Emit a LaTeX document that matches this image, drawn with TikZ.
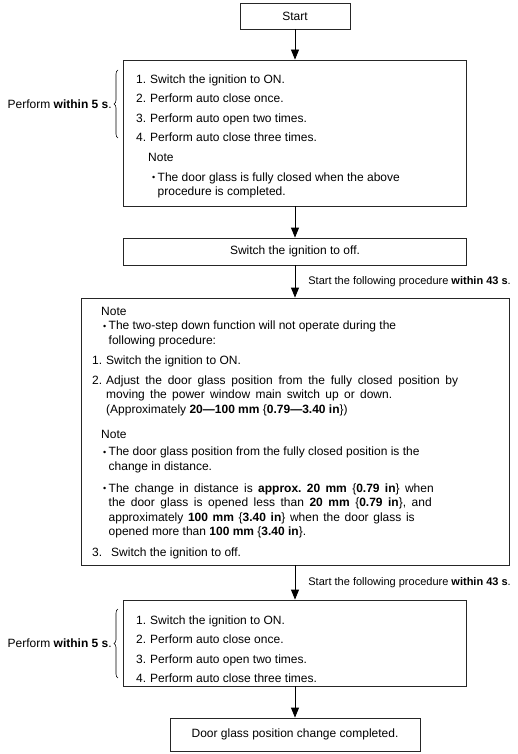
\documentclass[tikz,border=0pt]{standalone}
\usepackage{fontspec}
\setmainfont{Liberation Sans}
\usetikzlibrary{arrows.meta,positioning,decorations.pathreplacing}
\frenchspacing

\newcommand{\Num}[1]{\makebox[14pt][l]{#1}}
\newcommand{\Bul}{\makebox[5.5pt][l]{\raisebox{0.6pt}{\scalebox{0.75}{\textbullet}}}}
\newcommand{\Fit}[2]{\makebox[#1][s]{#2}}

\begin{document}
\begin{tikzpicture}[x=1pt,y=-1pt,>={Triangle[length=10pt,width=8pt]},
	Edge/.style={->,black,line width=0.8pt},
	FlowBox/.style={rectangle,draw=black!85,line width=0.8pt,inner sep=0pt,font=\fontsize{12}{14.5}\selectfont},
	BoxText/.style={anchor=north west,inner sep=0pt,align=left,font=\fontsize{12}{14.5}\selectfont},
	SideText/.style={inner sep=0pt,font=\fontsize{11}{14}\selectfont},
	Brace/.style={decorate,decoration={brace,amplitude=4pt},line width=0.6pt},
]
	\useasboundingbox (0,0) rectangle (517,754);

	\node[FlowBox,minimum width=110pt,minimum height=26pt] (start) at (295,16) {Start};
	\node[FlowBox,minimum width=343pt,minimum height=146pt] (check1) at (295,133) {};
	\node[FlowBox,minimum width=343pt,minimum height=27pt] (off1) at (295,251.5) {Switch the ignition to off.};
	\node[FlowBox,minimum width=428pt,minimum height=267pt] (adjust) at (295,431.5) {};
	\node[FlowBox,minimum width=343pt,minimum height=86pt] (check2) at (295,643) {};
	\node[FlowBox,minimum width=250pt,minimum height=33pt] (done) at (295,734.5) {Door glass position change completed.};

	% box contents
	\node[BoxText] (check1txt) at (136,74.5) {
		\Num{1.}Switch the ignition to ON.\\[5pt]
		\Num{2.}Perform auto close once.\\[5pt]
		\Num{3.}Perform auto open two times.\\[5pt]
		\Num{4.}Perform auto close three times.\\[5.5pt]
		\hspace*{12pt}Note\\[5pt]
		\hspace*{16pt}\Bul The door glass is fully closed when the above\\
		\hspace*{21.5pt}procedure is completed.};
	\node[BoxText] (adjusttxt) at (92,307) {
		\hspace*{9pt}Note\\
		\hspace*{11pt}\Bul The two-step down function will not operate during the\\
		\hspace*{16.5pt}following procedure:\\[5.5pt]
		\Num{1.}Switch the ignition to ON.\\[5.5pt]
		\Num{2.}\Fit{352pt}{Adjust the door glass position from the fully closed position by}\\
		\hspace*{14pt}\Fit{286pt}{moving the power window main switch up or down.}\\
		\hspace*{14pt}(Approximately \textbf{20—100 mm} \{\textbf{0.79—3.40 in}\})\\[11pt]
		\hspace*{9pt}Note\\[2.5pt]
		\hspace*{11pt}\Bul The door glass position from the fully closed position is the\\
		\hspace*{16.5pt}change in distance.\\[7.5pt]
		\hspace*{11pt}\Bul \Fit{325pt}{The change in distance is \textbf{approx. 20 mm} \{\textbf{0.79 in}\} when}\\
		\hspace*{16.5pt}\Fit{323pt}{the door glass is opened less than \textbf{20 mm} \{\textbf{0.79 in}\}, and}\\
		\hspace*{16.5pt}\Fit{306pt}{approximately \textbf{100 mm} \{\textbf{3.40 in}\} when the door glass is}\\
		\hspace*{16.5pt}opened more than \textbf{100 mm} \{\textbf{3.40 in}\}.\\[6.5pt]
		\makebox[19pt][l]{3.}Switch the ignition to off.};
	\node[BoxText] (check2txt) at (136,615.5) {
		\Num{1.}Switch the ignition to ON.\\[5pt]
		\Num{2.}Perform auto close once.\\[5pt]
		\Num{3.}Perform auto open two times.\\[5pt]
		\Num{4.}Perform auto close three times.};

	% connectors
	\draw[Edge] (start) -- (check1);
	\draw[Edge] (check1) -- (off1);
	\draw[Edge] (off1) -- node[SideText,right=13pt] (wait1) {Start the following procedure \textbf{within 43 s}.} (adjust);
	\draw[Edge] (adjust) -- node[SideText,right=13pt] (wait2) {Start the following procedure \textbf{within 43 s}.} (check2);
	\draw[Edge] (check2) -- (done);

	% time limits
	\draw[Brace] (118,138) -- (118,70) node[midway,left=6pt,SideText,font=\fontsize{12}{14}\selectfont] (limit1) {Perform \textbf{within 5 s}.};
	\draw[Brace] (118,678) -- (118,609) node[midway,left=6pt,SideText,font=\fontsize{12}{14}\selectfont] (limit2) {Perform \textbf{within 5 s}.};
\end{tikzpicture}
\end{document}
